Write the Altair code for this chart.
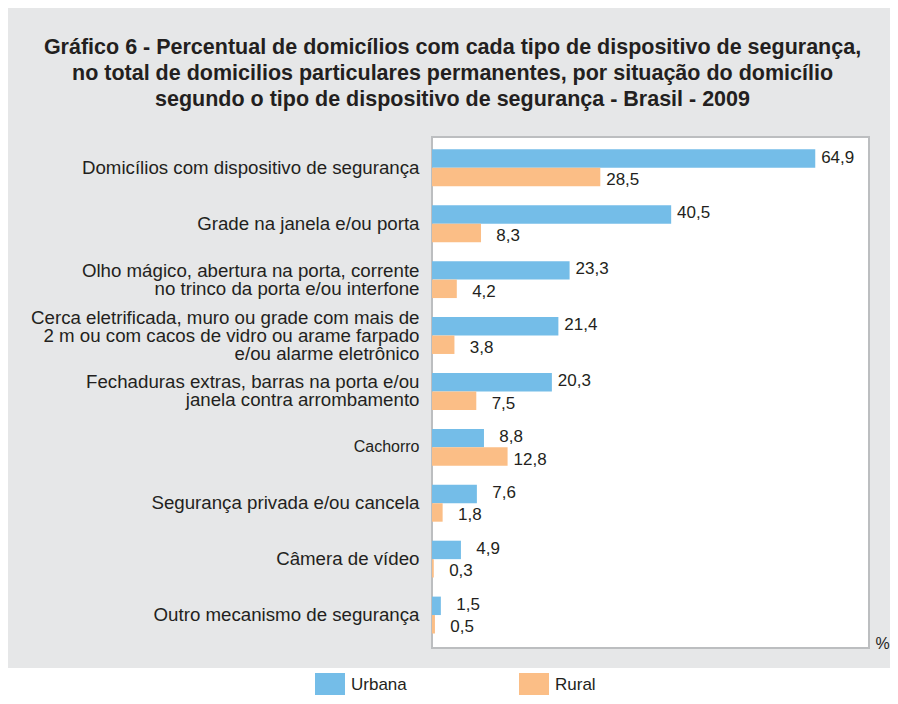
import altair as alt
import pandas as pd

# ---- data ----
categorias = [
    "Domicílios com dispositivo de segurança",
    "Grade na janela e/ou porta",
    "Olho mágico, abertura na porta, corrente\nno trinco da porta e/ou interfone",
    "Cerca eletrificada, muro ou grade com mais de\n2 m ou com cacos de vidro ou arame farpado\ne/ou alarme eletrônico",
    "Fechaduras extras, barras na porta e/ou\njanela contra arrombamento",
    "Cachorro",
    "Segurança privada e/ou cancela",
    "Câmera de vídeo",
    "Outro mecanismo de segurança",
]
urbana = [64.9, 40.5, 23.3, 21.4, 20.3, 8.8, 7.6, 4.9, 1.5]
rural = [28.5, 8.3, 4.2, 3.8, 7.5, 12.8, 1.8, 0.3, 0.5]
situacoes = ["Urbana", "Rural"]
cores = ["#74bde8", "#fbbe86"]
titulo = [
    "Gráfico 6 - Percentual de domicílios com cada tipo de dispositivo de segurança,",
    "no total de domicilios particulares permanentes, por situação do domicílio",
    "segundo o tipo de dispositivo de segurança - Brasil - 2009",
]

rows = []
for c, u, r in zip(categorias, urbana, rural):
    rows.append({"categoria": c, "situacao": "Urbana", "valor": u})
    rows.append({"categoria": c, "situacao": "Rural", "valor": r})
df = pd.DataFrame(rows)

W, H = 437, 511
TXT = "#231f20"
FONT = "Liberation Sans"
BG = "#e6e7e8"
LH = 18

n_lines = "length(split(datum.value, '\\n'))"

y_enc = alt.Y(
    "categoria:N",
    sort=categorias,
    scale=alt.Scale(paddingInner=0.34, paddingOuter=0.24, align=0.46),
    axis=alt.Axis(
        title=None, ticks=False, domain=False, labelPadding=13, labelLimit=0,
        labelFont=FONT,
        labelFontSize={"condition": {"test": "datum.value === 'Cachorro'", "value": 16}, "value": 18.7},
        labelOffset={
            "condition": [
                {"test": n_lines + " == 3", "value": -LH},
                {"test": n_lines + " == 2", "value": -LH / 2},
            ],
            "value": 0,
        },
        labelColor=TXT, labelLineHeight=LH,
        labelExpr="split(datum.value, '\\n')",
    ),
)
x_enc = alt.X(
    "valor:Q",
    scale=alt.Scale(domain=[0, 74], nice=False, zero=True),
    axis=alt.Axis(
        labels=False, ticks=False, domain=False, grid=False, title="%",
        titleX=443, titleY=0, titleAlign="left", titleBaseline="alphabetic",
        titleAngle=0, titleFont=FONT, titleFontSize=16, titleFontWeight="normal",
        titleColor=TXT,
    ),
)
yoff = alt.YOffset("situacao:N", sort=situacoes, scale=alt.Scale(paddingInner=0, paddingOuter=0))

bars = alt.Chart(df).mark_bar().encode(
    x=x_enc,
    y=y_enc,
    yOffset=yoff,
    color=alt.Color(
        "situacao:N", sort=situacoes,
        scale=alt.Scale(domain=situacoes, range=cores),
        legend=alt.Legend(
            title=None, orient="none", legendX=-117, legendY=533, direction="horizontal",
            symbolType="M-1,-0.8H1V0.8H-1Z", symbolSize=900, symbolStrokeWidth=0,
            symbolOpacity=1, labelFont=FONT, labelFontSize=17, labelColor=TXT,
            labelOffset=6, columnPadding=112, padding=0,
        ),
    ),
)

base_txt = alt.Chart(df).transform_calculate(
    rotulo="replace(format(datum.valor, '.1f'), '.', ',')"
)
txt_enc = dict(
    x=alt.X("valor:Q"),
    y=alt.Y("categoria:N", sort=categorias),
    yOffset=alt.YOffset("situacao:N", sort=situacoes),
    text="rotulo:N",
)
txt_u = base_txt.transform_filter("datum.situacao === 'Urbana'").mark_text(
    align="right", baseline="alphabetic", dx=39, dy=4, font=FONT, fontSize=17, color=TXT
).encode(**txt_enc)
txt_r = base_txt.transform_filter("datum.situacao === 'Rural'").mark_text(
    align="right", baseline="alphabetic", dx=39, dy=8, font=FONT, fontSize=17, color=TXT
).encode(**txt_enc)

strip = alt.Chart(pd.DataFrame({"z": [0]})).mark_rect(color="white", clip=False).encode(
    x=alt.value(-430), x2=alt.value(460), y=alt.value(531), y2=alt.value(620)
)

chart = alt.layer(strip, bars, txt_u, txt_r).properties(
    width=W,
    height=H,
    title=alt.TitleParams(
        text=titulo, font=FONT, fontSize=21.5, fontWeight="bold",
        color=TXT, anchor="middle", dx=-198, offset=27, lineHeight=26, frame="group",
    ),
    autosize=alt.AutoSizeParams(type="none"),
    padding={"left": 424, "top": 129, "right": 21, "bottom": 47},
    background=BG,
).configure_view(stroke="#bcbec0", strokeWidth=2, fill="white")

chart.save("out.html", embed_options={"renderer": "svg", "actions": False})
